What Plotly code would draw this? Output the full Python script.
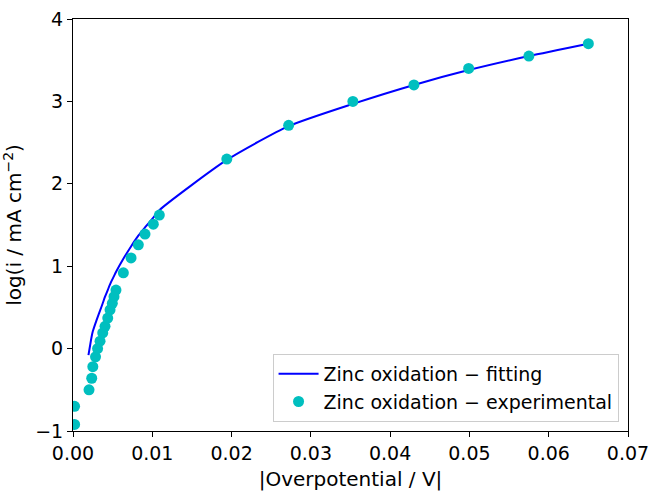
import plotly.graph_objects as go

# Experimental data
exp_x = [0.0002, 0.0002, 0.00202, 0.00236, 0.00250, 0.00284, 0.00310, 0.00341,
         0.00375, 0.00404, 0.00438, 0.00467, 0.00496, 0.00517, 0.00542, 0.00635,
         0.00732, 0.00824, 0.00908, 0.01013, 0.01089, 0.0194, 0.0272, 0.0353,
         0.0430, 0.0499, 0.0575, 0.0650]
exp_y = [-0.92, -0.70, -0.50, -0.36, -0.22, -0.10, 0.00, 0.09,
         0.19, 0.27, 0.37, 0.47, 0.55, 0.63, 0.71, 0.92,
         1.10, 1.26, 1.39, 1.51, 1.62, 2.30, 2.71, 3.00,
         3.20, 3.40, 3.55, 3.70]

# Fitting curve
fit_x = [0.00195, 0.00236, 0.00250, 0.00284, 0.00310, 0.00341, 0.00375, 0.00404,
         0.00438, 0.00467, 0.00496, 0.00517, 0.00542, 0.00635, 0.00732, 0.00824,
         0.00908, 0.01013, 0.01089, 0.0194, 0.0272, 0.0353, 0.0430, 0.0499,
         0.0575, 0.0650]
fit_y = [-0.08, 0.15, 0.21, 0.31, 0.38, 0.46, 0.55, 0.63,
         0.71, 0.78, 0.84, 0.88, 0.93, 1.09, 1.24, 1.37,
         1.47, 1.59, 1.68, 2.29, 2.70, 2.97, 3.20, 3.38,
         3.55, 3.70]

x_ticks = [0.00, 0.01, 0.02, 0.03, 0.04, 0.05, 0.06, 0.07]
y_ticks = [-1, 0, 1, 2, 3, 4]

FONT = "DejaVu Sans"

fig = go.Figure()
fig.add_trace(go.Scatter(
    x=fit_x, y=fit_y, mode="lines",
    line=dict(color="#0000ff", width=2, shape="spline", smoothing=0.6),
    name="Zinc oxidation \u2212 fitting",
))
fig.add_trace(go.Scatter(
    x=exp_x, y=exp_y, mode="markers",
    marker=dict(color="#00bfbf", size=11, line=dict(width=0)),
    name="Zinc oxidation \u2212 experimental",
))

axis_common = dict(
    showline=True, linecolor="black", linewidth=1, mirror=True,
    ticks="outside", ticklen=5, tickwidth=1, tickcolor="black",
    showgrid=False, zeroline=False, automargin=False,
    tickfont=dict(family=FONT, size=19, color="black"),
)

fig.update_layout(
    width=650, height=492,
    margin=dict(l=73, r=22, t=19, b=61),
    paper_bgcolor="white", plot_bgcolor="white",
    font=dict(family=FONT, size=19, color="black"),
    showlegend=True,
    legend=dict(
        x=0.983, y=0.022, xanchor="right", yanchor="bottom",
        bgcolor="white", bordercolor="#cccccc", borderwidth=1,
        font=dict(family=FONT, size=19, color="black"),
        tracegroupgap=0, itemwidth=40,
    ),
    xaxis=dict(
        range=[0, 0.07], tickvals=x_ticks,
        ticktext=[f"{v:.2f}" for v in x_ticks],
        title=dict(text="|Overpotential / V|", font=dict(family=FONT, size=20), standoff=9),
        **axis_common,
    ),
    yaxis=dict(
        range=[-1, 4], tickvals=y_ticks,
        ticktext=[("\u2212" + str(-v)) if v < 0 else str(v) for v in y_ticks],
        title=dict(text="log(i / mA cm<sup>\u22122</sup>)", font=dict(family=FONT, size=20), standoff=8),
        **axis_common,
    ),
)

fig.write_html("out.html")
